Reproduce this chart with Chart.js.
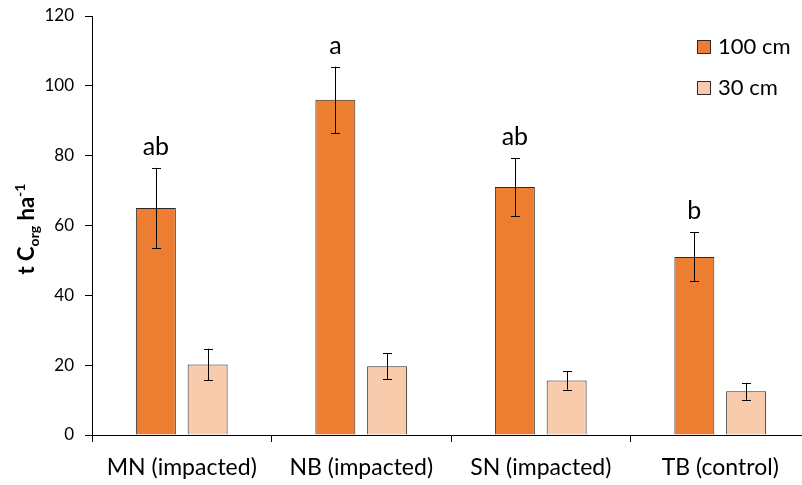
<!DOCTYPE html>
<html>
<head>
<meta charset="utf-8">
<script src="https://cdn.jsdelivr.net/npm/chart.js@4/dist/chart.umd.min.js"></script>
<style>
  html, body { margin: 0; padding: 0; background: #fff; overflow: hidden; }
  #wrap { width: 812px; height: 485px; }
</style>
</head>
<body>
<div id="wrap"><canvas id="c" width="812" height="485"></canvas></div>
<script>
// Organic carbon stock per site, two sampling depths (mean ± SE)
const sites = ['MN (impacted)', 'NB (impacted)', 'SN (impacted)', 'TB (control)'];
const depth100 = [65, 96, 71, 51];
const depth100Err = [11.5, 9.5, 8.3, 7.0];
const depth30 = [20.2, 19.7, 15.6, 12.5];
const depth30Err = [4.5, 3.7, 2.6, 2.4];
const groupLetters = ['ab', 'a', 'ab', 'b'];
const yTicks = [0, 20, 40, 60, 80, 100, 120];

const FONT = 'Lato, "Open Sans", sans-serif';
const ORANGE = '#ED7D31';
const PEACH = '#F8CBAD';
const OUTLINE = '#2a2a2a';

// Error bars and significance letters drawn on top of the bars
const errorBarPlugin = {
  id: 'errorBars',
  afterDatasetsDraw(chart) {
    const ctx = chart.ctx;
    const y = chart.scales.y;
    chart.data.datasets.forEach((ds, di) => {
      const meta = chart.getDatasetMeta(di);
      meta.data.forEach((bar, i) => {
        const v = ds.data[i];
        const e = ds.errors[i];
        const yTop = y.getPixelForValue(v + e);
        const yBot = y.getPixelForValue(v - e);
        const x = Math.round(bar.x) + 0.5;
        ctx.save();
        ctx.strokeStyle = '#000';
        ctx.lineWidth = 1;
        ctx.beginPath();
        ctx.moveTo(x, yTop); ctx.lineTo(x, yBot);
        ctx.moveTo(x - 4.5, Math.round(yTop) + 0.5); ctx.lineTo(x + 4.5, Math.round(yTop) + 0.5);
        ctx.moveTo(x - 4.5, Math.round(yBot) + 0.5); ctx.lineTo(x + 4.5, Math.round(yBot) + 0.5);
        ctx.stroke();
        if (ds.letters) {
          ctx.fillStyle = '#000';
          ctx.font = '25px ' + FONT;
          ctx.textAlign = 'center';
          ctx.textBaseline = 'alphabetic';
          ctx.fillText(ds.letters[i], bar.x, yTop - 13);
        }
        ctx.restore();
      });
    });
  },
  afterDraw(chart) {
    const ctx = chart.ctx;
    // legend
    const items = chart.data.datasets.map(d => ({ label: d.label, color: d.backgroundColor }));
    const lx = 697, rows = [40, 81];
    items.forEach((it, k) => {
      const top = rows[k];
      ctx.save();
      ctx.fillStyle = it.color;
      ctx.fillRect(lx, top, 14, 14);
      ctx.strokeStyle = OUTLINE;
      ctx.lineWidth = 1;
      ctx.strokeRect(lx + 0.5, top + 0.5, 13, 13);
      ctx.fillStyle = '#000';
      ctx.font = '22px ' + FONT;
      ctx.textAlign = 'left';
      ctx.textBaseline = 'alphabetic';
      ctx.fillText(it.label, lx + 21, top + 14);
      ctx.restore();
    });
    // y-axis title: t C_org ha^-1
    ctx.save();
    ctx.translate(34, 229);
    ctx.rotate(-Math.PI / 2);
    ctx.fillStyle = '#000';
    ctx.textBaseline = 'alphabetic';
    ctx.textAlign = 'left';
    const big = 'bold 22px ' + FONT, small = 'bold 14px ' + FONT;
    const parts = [
      { t: 't C', f: big, dy: 0 },
      { t: 'org', f: small, dy: 5 },
      { t: ' ha', f: big, dy: 0 },
      { t: '-1', f: small, dy: -9 }
    ];
    let total = 0;
    parts.forEach(p => { ctx.font = p.f; p.w = ctx.measureText(p.t).width; total += p.w; });
    let cx = -total / 2;
    parts.forEach(p => { ctx.font = p.f; ctx.fillText(p.t, cx, p.dy); cx += p.w; });
    ctx.restore();
  }
};

new Chart(document.getElementById('c'), {
  type: 'bar',
  data: {
    labels: sites,
    datasets: [
      { label: '100 cm', data: depth100, errors: depth100Err, letters: groupLetters,
        backgroundColor: ORANGE, borderColor: OUTLINE, borderWidth: 1 },
      { label: '30 cm', data: depth30, errors: depth30Err,
        backgroundColor: PEACH, borderColor: OUTLINE, borderWidth: 1 }
    ]
  },
  options: {
    responsive: false,
    animation: false,
    categoryPercentage: 0.577,
    barPercentage: 0.772,
    layout: { padding: { top: 16, right: 2, left: 0, bottom: 0 } },
    plugins: { legend: { display: false }, tooltip: { enabled: false } },
    scales: {
      x: {
        grid: { drawOnChartArea: false, drawTicks: true, tickLength: 7, color: '#000', offset: true },
        border: { display: true, color: '#000', width: 1 },
        ticks: { color: '#000', font: { family: FONT, size: 23 }, padding: 12, maxRotation: 0, autoSkip: false },
        afterFit(scale) { scale.height = 50; scale.paddingLeft = 0; scale.paddingRight = 0; }
      },
      y: {
        min: 0, max: 120,
        afterBuildTicks(scale) { scale.ticks = yTicks.map(v => ({ value: v })); },
        grid: { drawOnChartArea: false, drawTicks: true, tickLength: 7, color: '#000' },
        border: { display: true, color: '#000', width: 1 },
        ticks: { color: '#000', font: { family: FONT, size: 17 }, padding: 11 },
        afterFit(scale) { scale.width = 92; scale.paddingTop = 0; scale.paddingBottom = 0; }
      }
    }
  },
  plugins: [errorBarPlugin]
});
</script>
</body>
</html>
